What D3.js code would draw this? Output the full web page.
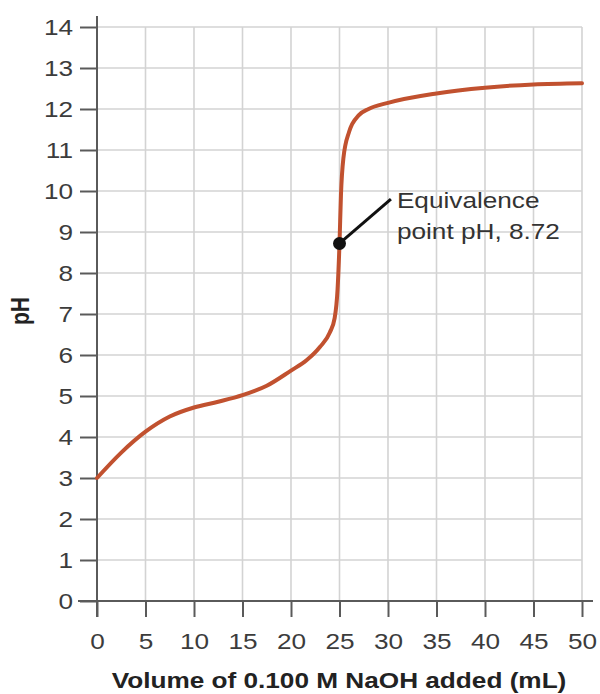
<!DOCTYPE html>
<html>
<head>
<meta charset="utf-8">
<script src="https://cdn.jsdelivr.net/npm/d3@7"></script>
<style>
  body { margin: 0; background: #fff; }
  svg text { font-family: "Liberation Sans", Arial, sans-serif; }
</style>
</head>
<body>
<div id="chart"></div>
<script>
// titration curve (volume of NaOH in mL, pH)
const volume = [0, 2.5, 5, 7.5, 10, 12.5, 15, 17.5, 20, 21.6, 23, 24, 24.5, 24.8, 25, 25.15, 25.4, 26, 27, 28, 30, 35, 40, 45, 50];
const pH     = [3.0, 3.62, 4.13, 4.5, 4.72, 4.86, 5.02, 5.25, 5.62, 5.87, 6.2, 6.55, 6.9, 7.6, 8.72, 9.9, 10.8, 11.45, 11.85, 12.0, 12.15, 12.38, 12.52, 12.6, 12.63];

const xTicks = [0, 5, 10, 15, 20, 25, 30, 35, 40, 45, 50];
const yTicks = [0, 1, 2, 3, 4, 5, 6, 7, 8, 9, 10, 11, 12, 13, 14];

const eqVolume = 25, eqPH = 8.72;
const eqLabel = ["Equivalence", "point pH, 8.72"];
const leaderEnd = [30.3, 9.8];

const xTitle = "Volume of 0.100 M NaOH added (mL)";
const yTitle = "pH";

const width = 600, height = 694;
const stretch = 1.19; // the source image is widened a bit
const curveColor = "#c1512f";
const axisColor = "#5a5a5a";
const gridColor = "#d3d3d3";

const svg = d3.select("#chart").append("svg")
    .attr("width", width)
    .attr("height", height);

const xscale = d3.scaleLinear().domain([0, 50]).range([97, 582]);
const yscale = d3.scaleLinear().domain([0, 14]).range([601, 27]);

// grid
svg.append("g").selectAll("line")
    .data(yTicks.slice(1))
    .enter().append("line")
    .attr("x1", xscale(0)).attr("x2", xscale(50))
    .attr("y1", d => yscale(d)).attr("y2", d => yscale(d))
    .attr("stroke", gridColor).attr("stroke-width", 1.6);

svg.append("g").selectAll("line")
    .data(xTicks.slice(1))
    .enter().append("line")
    .attr("x1", d => xscale(d)).attr("x2", d => xscale(d))
    .attr("y1", yscale(0)).attr("y2", yscale(14))
    .attr("stroke", gridColor).attr("stroke-width", 1.6);

// axes
const xaxis = d3.axisBottom(xscale).tickValues(xTicks).tickSize(16).tickSizeOuter(0).tickPadding(16);
const yaxis = d3.axisLeft(yscale).tickValues(yTicks).tickSize(17).tickSizeOuter(0);

const gx = svg.append("g")
    .attr("transform", `translate(0, ${yscale(0)})`)
    .call(xaxis);
const gy = svg.append("g")
    .attr("transform", `translate(${xscale(0)}, 0)`)
    .call(yaxis);

[gx, gy].forEach(g => {
    g.select(".domain").remove();
    g.selectAll(".tick line").attr("stroke", axisColor).attr("stroke-width", 2);
    g.selectAll(".tick text")
        .attr("fill", "#3c3c3c")
        .style("font-size", "22px")
        .attr("transform", `scale(${stretch},1)`);
});
gy.selectAll(".tick text").attr("x", -24 / stretch);

svg.append("line")
    .attr("x1", 78).attr("x2", 593)
    .attr("y1", yscale(0)).attr("y2", yscale(0))
    .attr("stroke", axisColor).attr("stroke-width", 2);
svg.append("line")
    .attr("x1", xscale(0)).attr("x2", xscale(0))
    .attr("y1", 16).attr("y2", 617)
    .attr("stroke", axisColor).attr("stroke-width", 2);

// titles
svg.append("text")
    .attr("transform", `translate(339, 688) scale(${stretch},1)`)
    .attr("text-anchor", "middle")
    .attr("fill", "#222")
    .style("font-size", "22px")
    .style("font-weight", "bold")
    .text(xTitle);

svg.append("text")
    .attr("transform", `translate(29, 311) rotate(-90) scale(1,${stretch})`)
    .attr("text-anchor", "middle")
    .attr("fill", "#222")
    .style("font-size", "21px")
    .style("font-weight", "bold")
    .text(yTitle);

// curve
const points = volume.map((v, i) => [v, pH[i]]);
const line = d3.line()
    .x(d => xscale(d[0]))
    .y(d => yscale(d[1]))
    .curve(d3.curveMonotoneX);

svg.append("path")
    .datum(points)
    .attr("d", line)
    .attr("fill", "none")
    .attr("stroke", curveColor)
    .attr("stroke-width", 4)
    .attr("stroke-linecap", "round");

// equivalence point annotation
svg.append("line")
    .attr("x1", xscale(eqVolume)).attr("y1", yscale(eqPH))
    .attr("x2", xscale(leaderEnd[0])).attr("y2", yscale(leaderEnd[1]))
    .attr("stroke", "#111").attr("stroke-width", 3);

svg.append("circle")
    .attr("cx", xscale(eqVolume))
    .attr("cy", yscale(eqPH))
    .attr("r", 6.5)
    .attr("fill", "#111");

eqLabel.forEach((t, i) => {
    svg.append("text")
        .attr("transform", `translate(${xscale(leaderEnd[0]) + 6}, ${yscale(leaderEnd[1]) + 9 + i * 31}) scale(${stretch},1)`)
        .attr("fill", "#333")
        .style("font-size", "22px")
        .text(t);
});
</script>
</body>
</html>
